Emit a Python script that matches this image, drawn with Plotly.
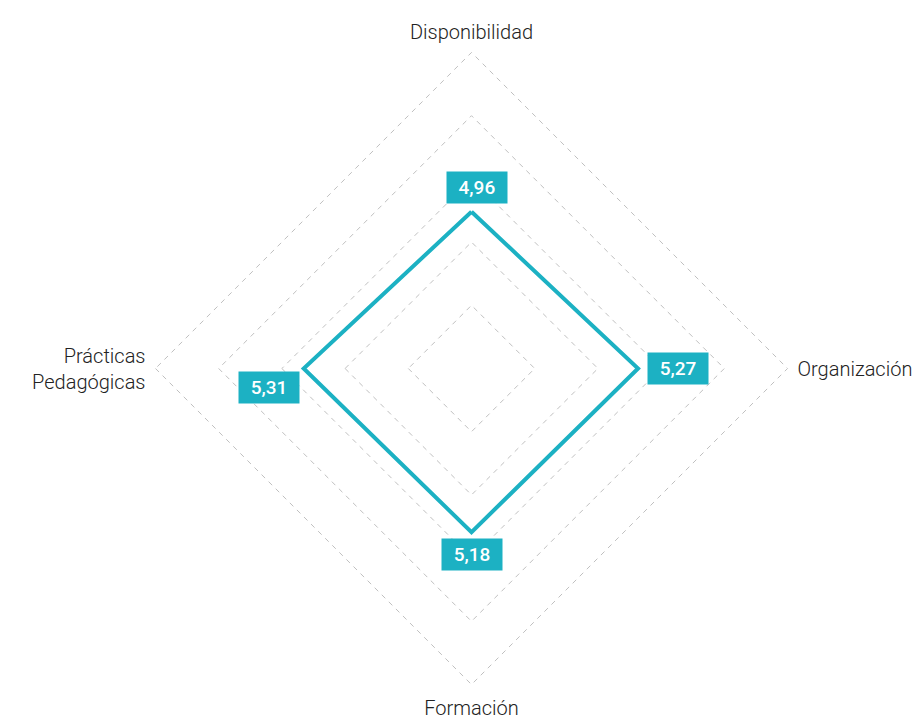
import math
import plotly.graph_objects as go

categorias = ["Disponibilidad", "Organización", "Formación", "Prácticas<br>Pedagógicas"]
valores = [4.96, 5.27, 5.18, 5.31]
anillos = [2, 4, 6, 8, 10]

teal = "#1cb1c3"
rmax = 10.3  # un poco más que 10 para que se dibuje el anillo exterior

fig = go.Figure()

fig.add_trace(go.Scatterpolar(
    r=valores + [valores[0]],
    theta=categorias + [categorias[0]],
    mode="lines",
    line=dict(color=teal, width=4),
    hoverinfo="skip",
    showlegend=False,
))

# desplazamientos de las etiquetas (px)
shifts = [(5, 24), (40, 0), (0, -22), (-35, -19)]

for i, (v, s) in enumerate(zip(valores, shifts)):
    ang = 2 * math.pi * i / len(valores)
    x = 0.5 + 0.5 * v / rmax * math.sin(ang)
    y = 0.5 + 0.5 * v / rmax * math.cos(ang)
    fig.add_annotation(
        x=x, y=y, xref="paper", yref="paper",
        xanchor="center", yanchor="middle",
        text=f"{v:.2f}".replace(".", ","),
        showarrow=False,
        xshift=s[0], yshift=s[1],
        bgcolor=teal,
        width=58, height=29, borderpad=1,
        font=dict(color="white", size=19, family="Roboto", weight=500),
    )

fig.update_layout(
    width=924, height=722,
    margin=dict(l=138, r=135, t=35, b=36, autoexpand=False),
    paper_bgcolor="white",
    font=dict(family="Roboto", size=20, color="#222222"),
    polar=dict(
        bgcolor="white",
        gridshape="linear",
        domain=dict(x=[0, 1], y=[0, 1]),
        radialaxis=dict(
            range=[0, rmax], tickvals=anillos, showticklabels=False, ticks="",
            showline=False, gridcolor="#c0c0c0", griddash="5px,5px", gridwidth=1,
        ),
        angularaxis=dict(
            rotation=90, direction="clockwise", showgrid=False,
            showline=False, ticks="",
            tickfont=dict(size=20, color="#222222", weight=300),
        ),
    ),
)

fig.write_html("out.html")
